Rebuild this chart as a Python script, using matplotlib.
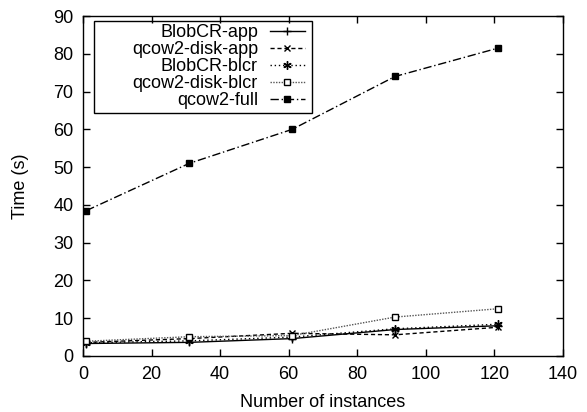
import matplotlib
matplotlib.use("Agg")
import matplotlib.pyplot as plt
from matplotlib.patches import Rectangle

plt.rcParams['font.family'] = ['Liberation Sans', 'DejaVu Sans']

x = [1, 31, 61, 91, 121]
blobcr_app = [3.3, 3.6, 4.6, 7.0, 8.0]
qcow2_disk_app = [3.6, 4.6, 6.0, 5.6, 7.6]
blobcr_blcr = [3.5, 4.0, 5.0, 7.2, 8.4]
qcow2_disk_blcr = [3.9, 5.1, 5.4, 10.3, 12.5]
qcow2_full = [38.5, 51.0, 60.0, 74.0, 81.5]

labels = ["BlobCR-app", "qcow2-disk-app", "BlobCR-blcr", "qcow2-disk-blcr", "qcow2-full"]
x_ticks = [0, 20, 40, 60, 80, 100, 120, 140]
y_ticks = [0, 10, 20, 30, 40, 50, 60, 70, 80, 90]

fig = plt.figure(figsize=(5.87, 4.12), dpi=100)
ax = fig.add_axes([0.1414, 0.136, 0.8177, 0.825])

ax.plot(x, blobcr_app, color='black', lw=1.0, ls='-', marker='+', ms=6, mew=1.0, label=labels[0])
ax.plot(x, qcow2_disk_app, color='black', lw=1.0, ls=(0, (3, 2)), marker='x', ms=5, mew=1.0, label=labels[1])
ax.plot(x, blobcr_blcr, color='black', lw=1.0, ls=(0, (1, 2)), marker=(6, 2, 0), ms=6, mew=1.0, label=labels[2])
ax.plot(x, qcow2_disk_blcr, color='#555555', lw=1.0, ls=(0, (1, 1)), marker='s', ms=5, mfc='white', mec='black', mew=1.0, label=labels[3])
ax.plot(x, qcow2_full, color='black', lw=1.0, ls=(0, (6, 2, 1, 2)), marker='s', ms=5, mfc='black', mec='black', label=labels[4])

ax.set_xlim(0, 140)
ax.set_ylim(0, 90)
ax.set_xticks(x_ticks)
ax.set_yticks(y_ticks)
ax.tick_params(direction='in', top=True, right=True, length=5, labelsize=13, width=1.0, pad=7)
for s in ax.spines.values():
    s.set_linewidth(1.0)
ax.set_xlabel("Number of instances", fontsize=13, labelpad=8)
ax.set_ylabel("Time (s)", fontsize=13, labelpad=17)

leg = ax.legend(loc='upper right', bbox_to_anchor=(0.468, 0.985), markerfirst=False, fontsize=13,
                frameon=False, handlelength=1.95,
                labelspacing=0.0, borderpad=0.15, handletextpad=0.65, borderaxespad=0.0)
ax.add_patch(Rectangle((0.0229, 0.715), 0.477 - 0.0229, 0.985 - 0.715, transform=ax.transAxes,
                       fill=False, edgecolor='black', lw=1.0, zorder=5, clip_on=False))

fig.savefig("out.png", dpi=100)
